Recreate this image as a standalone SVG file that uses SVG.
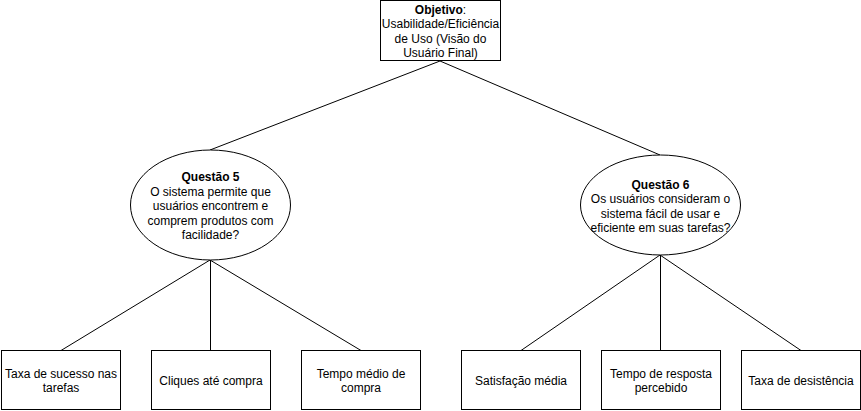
<svg xmlns="http://www.w3.org/2000/svg" width="861" height="411" viewBox="0 0 861 411">
<style>
.n{fill:#ffffff;stroke:#000000;stroke-width:1}
.e{fill:none;stroke:#000000;stroke-width:1}
text{font-family:"Liberation Sans",Arial,sans-serif;font-size:12px;fill:#000000;text-anchor:middle}
.b{font-weight:bold}
</style>
<rect x="0" y="0" width="861" height="411" fill="#ffffff"/>
<g id="connectors">
<path class="e" d="M440 61 L210 150"/>
<path class="e" d="M440 61 L660 155"/>
<path class="e" d="M210 260 L61 350.5"/>
<path class="e" d="M210.5 260 L210.5 350.5"/>
<path class="e" d="M210 260 L361 350.5"/>
<path class="e" d="M660 255 L521 350.5"/>
<path class="e" d="M660.5 255 L660.5 350.5"/>
<path class="e" d="M660 255 L801 350.5"/>
</g>
<g id="objetivo">
<rect class="n" x="380.5" y="0.5" width="120" height="60"/>
<text x="440.5" y="13.5"><tspan class="b">Objetivo</tspan>:</text>
<text x="440.5" y="28">Usabilidade/Eficiência</text>
<text x="440.5" y="42.5">de Uso (Visão do</text>
<text x="440.5" y="57">Usuário Final)</text>
</g>
<g id="questao5">
<ellipse class="n" cx="210.5" cy="205" rx="80" ry="55"/>
<text x="210.5" y="181" class="b">Questão 5</text>
<text x="210.5" y="195.5">O sistema permite que</text>
<text x="210.5" y="210">usuários encontrem e</text>
<text x="210.5" y="224.5">comprem produtos com</text>
<text x="210.5" y="239">facilidade?</text>
</g>
<g id="questao6">
<ellipse class="n" cx="660.5" cy="205" rx="80" ry="50"/>
<text x="660.5" y="188.5" class="b">Questão 6</text>
<text x="660.5" y="203">Os usuários consideram o</text>
<text x="660.5" y="217.5">sistema fácil de usar e</text>
<text x="660.5" y="232">eficiente em suas tarefas?</text>
</g>
<g id="taxa-sucesso">
<rect class="n" x="1.5" y="350.5" width="119" height="59"/>
<text x="61" y="377.5">Taxa de sucesso nas</text>
<text x="61" y="392">tarefas</text>
</g>
<g id="cliques">
<rect class="n" x="151.5" y="350.5" width="119" height="59"/>
<text x="211" y="384.5">Cliques até compra</text>
</g>
<g id="tempo-medio">
<rect class="n" x="301.5" y="350.5" width="119" height="59"/>
<text x="361" y="377.5">Tempo médio de</text>
<text x="361" y="392">compra</text>
</g>
<g id="satisfacao">
<rect class="n" x="461.5" y="350.5" width="119" height="59"/>
<text x="521" y="384.5">Satisfação média</text>
</g>
<g id="tempo-resposta">
<rect class="n" x="601.5" y="350.5" width="119" height="59"/>
<text x="661" y="377.5">Tempo de resposta</text>
<text x="661" y="392">percebido</text>
</g>
<g id="desistencia">
<rect class="n" x="741.5" y="350.5" width="119" height="59"/>
<text x="801" y="384.5">Taxa de desistência</text>
</g>
</svg>
